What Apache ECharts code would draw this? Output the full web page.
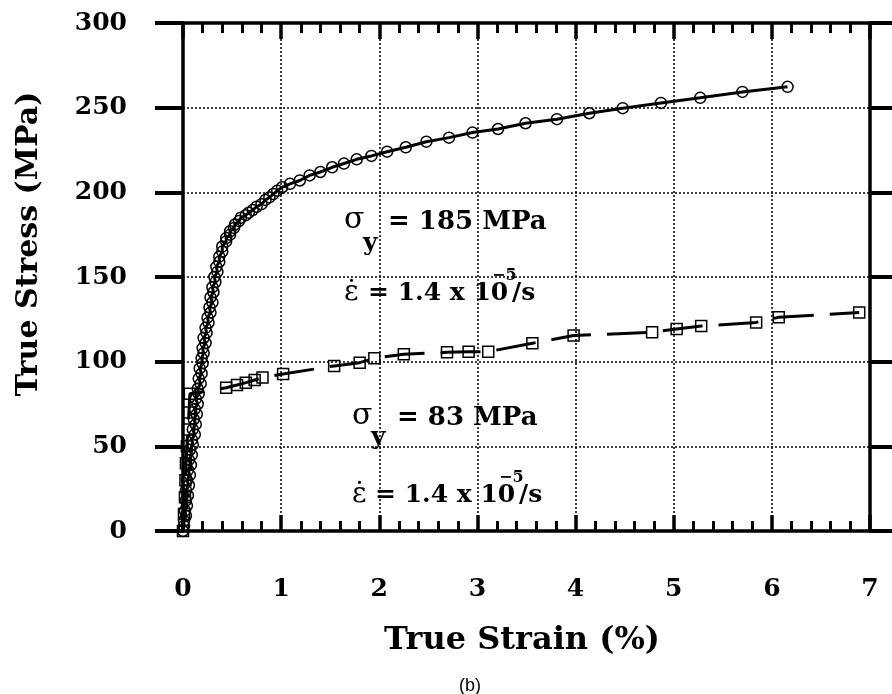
<!DOCTYPE html>
<html><head><meta charset="utf-8">
<script src="https://cdn.jsdelivr.net/npm/echarts@6/dist/echarts.min.js"></script>
<style>html,body{margin:0;padding:0;background:#fff}#c{width:892px;height:694px}</style>
</head><body><div id="c"></div>
<script>
// ---- data ----
const xTicks = [0, 1, 2, 3, 4, 5, 6, 7];
const yTicks = [0, 50, 100, 150, 200, 250, 300];
const xTitle = 'True Strain (%)';
const yTitle = 'True Stress (MPa)';
const caption = '(b)';

// Upper curve (circles): sigma_y = 185 MPa
const strainA = [0.00, 0.01, 0.01, 0.03, 0.02, 0.04, 0.03, 0.05, 0.03, 0.06, 0.04, 0.07, 0.05, 0.08, 0.06, 0.09, 0.07, 0.10, 0.09, 0.12, 0.10, 0.13, 0.11, 0.14, 0.12, 0.15, 0.13, 0.16, 0.15, 0.18, 0.16, 0.19, 0.17, 0.20, 0.19, 0.21, 0.20, 0.23, 0.21, 0.24, 0.23, 0.26, 0.25, 0.28, 0.27, 0.30, 0.28, 0.31, 0.30, 0.33, 0.32, 0.35, 0.34, 0.37, 0.37, 0.40, 0.40, 0.44, 0.44, 0.48, 0.48, 0.52, 0.53, 0.57, 0.59, 0.64, 0.67, 0.71, 0.75, 0.80, 0.84, 0.88, 0.92, 0.96, 1.01, 1.09, 1.19, 1.29, 1.40, 1.52, 1.64, 1.77, 1.92, 2.08, 2.27, 2.48, 2.71, 2.95, 3.21, 3.49, 3.81, 4.14, 4.48, 4.87, 5.27, 5.70, 6.16];
const stressA = [0, 3, 6, 9, 12, 15, 18, 21, 24, 27, 30, 33, 36, 39, 42, 45, 48, 51, 54, 57, 60, 63, 66, 69, 72, 75, 78, 81, 84, 87, 90, 93, 96, 99, 102, 105, 108, 111, 114, 117, 120, 123, 126, 129, 132, 135, 138, 141, 144, 147, 150, 153, 156, 159, 162, 165, 168, 171, 173, 175, 177, 179, 181, 183, 185, 186.5, 188, 189.5, 191.5, 193, 195.5, 197, 199, 201, 203, 205, 207, 210, 212, 214.8, 217, 219.5, 221.5, 224, 226.6, 229.9, 232.3, 235.3, 237.4, 240.8, 243.2, 246.7, 249.7, 252.8, 255.8, 259.3, 262.3];

// Lower curve (squares): sigma_y = 83 MPa
const strainB = [0, 0.01, 0.02, 0.025, 0.03, 0.04, 0.05, 0.06, 0.07, 0.44, 0.55, 0.64, 0.73, 0.81, 1.02, 1.54, 1.80, 1.95, 2.25, 2.69, 2.91, 3.11, 3.56, 3.98, 4.78, 5.03, 5.28, 5.84, 6.07, 6.89];
const stressB = [0, 10, 20, 30, 40, 50, 60, 70, 81, 84.6, 86.2, 87.6, 89.2, 90.6, 92.7, 97.5, 99.4, 102, 104.4, 105.5, 105.9, 105.9, 110.9, 115.4, 117.4, 119.3, 121, 123.2, 126.2, 129];

const annot185 = ['σ', 'y', '= 185 MPa'];
const annot83 = ['σ', 'y', '= 83 MPa'];
const rateText = ['ε̇', '= 1.4 x 10', '−5', '/s'];

// ---- chart ----
const SERIF = '"DejaVu Serif", "Liberation Serif", serif';
const chart = echarts.init(document.getElementById('c'), null, {renderer: 'canvas'});
const pairs = (xs, ys) => xs.map((x, i) => [x, ys[i]]);

const xMin = xTicks[0], xMax = xTicks[xTicks.length - 1], xInt = xTicks[1] - xTicks[0];
const yMin = yTicks[0], yMax = yTicks[yTicks.length - 1], yInt = yTicks[1] - yTicks[0];

const dotted = {show: true, lineStyle: {color: '#000', width: 1.5, type: [2, 2]}};
function xAx(pos, labels) {
  return {
    type: 'value', position: pos, min: xMin, max: xMax, interval: xInt,
    axisLine: {show: true, onZero: false, lineStyle: {color: '#000', width: 3.5}},
    axisTick: {show: true, inside: true, length: 16, lineStyle: {color: '#000', width: 3.5}},
    minorTick: {show: true, splitNumber: 5, length: 10, lineStyle: {color: '#000', width: 3}},
    splitLine: labels ? dotted : {show: false},
    axisLabel: labels ? {show: true, margin: 46, color: '#000', fontFamily: SERIF, fontWeight: 'bold', fontSize: 25} : {show: false}
  };
}
function yAx(pos, labels) {
  return {
    type: 'value', position: pos, min: yMin, max: yMax, interval: yInt,
    axisLine: {show: true, onZero: false, lineStyle: {color: '#000', width: 3.5}},
    axisTick: {show: true, inside: false, length: 28, lineStyle: {color: '#000', width: 4}},
    splitLine: labels ? dotted : {show: false},
    axisLabel: labels ? {show: true, margin: 56, color: '#000', fontFamily: SERIF, fontWeight: 'bold', fontSize: 25} : {show: false}
  };
}

function txt(text, x, y, size, opts) {
  opts = opts || {};
  const font = (opts.weight || 'bold') + ' ' + size + 'px ' + (opts.family || SERIF);
  return {
    type: 'text', x: x, y: y, rotation: opts.rotation || 0, silent: true, z: 100,
    style: {text: text, font: font, fill: '#000',
      align: opts.align || 'left', verticalAlign: 'middle',
      textAlign: opts.align || 'left', textVerticalAlign: 'middle'}
  };
}

const option = {
  animation: false,
  backgroundColor: '#fff',
  grid: {left: 183, right: 22, top: 23, bottom: 163, containLabel: false, outerBoundsMode: 'none'},
  xAxis: [xAx('bottom', true), xAx('top', false)],
  yAxis: [yAx('left', true), yAx('right', false)],
  series: [
    {
      type: 'line', xAxisIndex: 0, yAxisIndex: 0, data: pairs(strainA, stressA),
      symbol: 'circle', symbolSize: 11, showAllSymbol: true,
      itemStyle: {color: 'transparent', borderColor: '#000', borderWidth: 1.5},
      lineStyle: {color: '#000', width: 3}, z: 5
    },
    {
      type: 'line', xAxisIndex: 0, yAxisIndex: 0, data: pairs(strainB, stressB),
      symbol: 'rect', symbolSize: 11, showAllSymbol: true,
      itemStyle: {color: 'transparent', borderColor: '#000', borderWidth: 1.5},
      lineStyle: {color: '#000', width: 3, type: [40, 16]}, z: 4
    }
  ],
  graphic: [
    txt(yTitle, 29, 244, 30, {align: 'center', rotation: Math.PI / 2}),
    txt(xTitle, 522, 641, 32, {align: 'center'}),
    txt(caption, 470, 686, 18, {align: 'center', weight: 'normal', family: '"Liberation Sans", Arial, sans-serif'}),
    // sigma_y = 185 MPa
    txt(annot185[0], 344, 220, 30, {weight: 'normal'}),
    txt(annot185[1], 363, 243, 25),
    txt(annot185[2], 388, 222, 26),
    // rate (upper)
    txt(rateText[0], 344, 293, 28, {weight: 'normal'}),
    txt(rateText[1], 368, 293, 25),
    txt(rateText[2], 492, 276, 16),
    txt(rateText[3], 512, 293, 25),
    // sigma_y = 83 MPa
    txt(annot83[0], 352, 416, 30, {weight: 'normal'}),
    txt(annot83[1], 371, 437, 25),
    txt(annot83[2], 397, 418, 26),
    // rate (lower)
    txt(rateText[0], 352, 495, 28, {weight: 'normal'}),
    txt(rateText[1], 375, 495, 25),
    txt(rateText[2], 499, 478, 16),
    txt(rateText[3], 519, 495, 25)
  ]
};
chart.setOption(option);
</script>
</body></html>
